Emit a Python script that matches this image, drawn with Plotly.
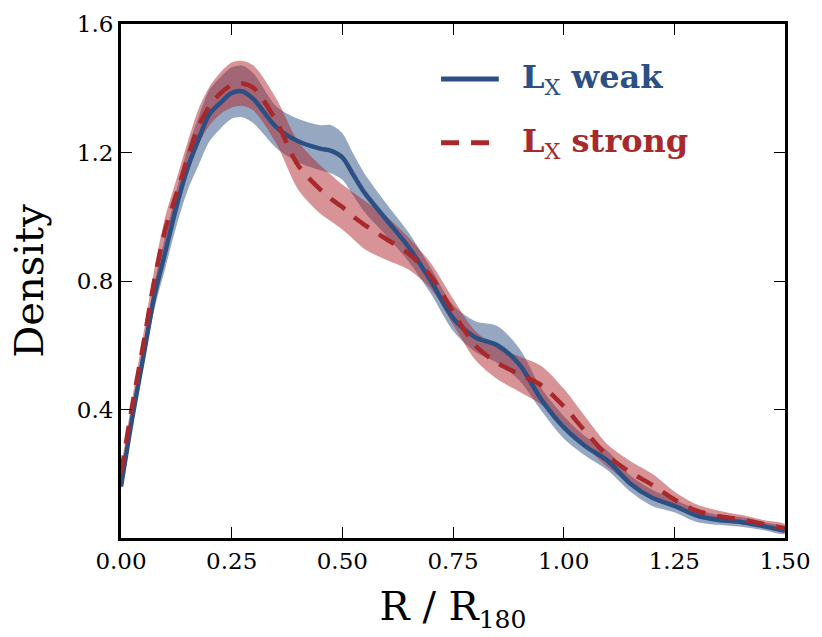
import plotly.graph_objects as go

# ---- data ----
r_grid = [0, 0.025, 0.05, 0.075, 0.1, 0.125, 0.15, 0.175, 0.2, 0.225, 0.25, 0.275, 0.3,
          0.35, 0.4, 0.45, 0.475, 0.5, 0.525, 0.55, 0.6, 0.65, 0.7, 0.75, 0.8, 0.85, 0.9, 0.95, 1.0,
          1.05, 1.1, 1.15, 1.2, 1.25, 1.3, 1.35, 1.4, 1.45, 1.5]

weak_mid = [0.16, 0.37, 0.56, 0.75, 0.89, 1.03, 1.15, 1.24, 1.32, 1.355, 1.385, 1.39, 1.365,
            1.28, 1.235, 1.212, 1.205, 1.185, 1.13, 1.075, 0.99, 0.905, 0.80, 0.685, 0.625, 0.60, 0.54, 0.43, 0.345,
            0.285, 0.24, 0.17, 0.125, 0.10, 0.07, 0.056, 0.05, 0.037, 0.023]
weak_hi = [0.17, 0.39, 0.59, 0.79, 0.94, 1.08, 1.21, 1.31, 1.395, 1.435, 1.465, 1.47, 1.445,
           1.345, 1.305, 1.285, 1.285, 1.26, 1.195, 1.135, 1.04, 0.95, 0.84, 0.725, 0.675, 0.66, 0.59, 0.465, 0.38,
           0.315, 0.27, 0.195, 0.15, 0.12, 0.09, 0.071, 0.065, 0.049, 0.033]
weak_lo = [0.15, 0.35, 0.53, 0.71, 0.84, 0.97, 1.08, 1.16, 1.235, 1.275, 1.305, 1.31, 1.29,
           1.215, 1.17, 1.145, 1.135, 1.115, 1.065, 1.015, 0.94, 0.86, 0.76, 0.645, 0.58, 0.545, 0.49, 0.395, 0.31,
           0.255, 0.21, 0.145, 0.10, 0.08, 0.05, 0.041, 0.035, 0.025, 0.013]

strong_mid = [0.20, 0.41, 0.60, 0.80, 0.96, 1.07, 1.18, 1.28, 1.345, 1.385, 1.41, 1.415, 1.40,
              1.30, 1.16, 1.085, 1.055, 1.03, 1.0, 0.975, 0.93, 0.885, 0.815, 0.705, 0.60, 0.545, 0.51, 0.475, 0.41,
              0.33, 0.255, 0.205, 0.165, 0.12, 0.085, 0.068, 0.058, 0.044, 0.03]
strong_hi = [0.22, 0.43, 0.63, 0.835, 1.0, 1.115, 1.23, 1.335, 1.405, 1.45, 1.48, 1.485, 1.47,
             1.37, 1.235, 1.16, 1.13, 1.10, 1.075, 1.05, 1.0, 0.935, 0.855, 0.745, 0.645, 0.595, 0.565, 0.535, 0.465,
             0.375, 0.29, 0.24, 0.20, 0.145, 0.105, 0.085, 0.072, 0.056, 0.042]
strong_lo = [0.18, 0.39, 0.57, 0.765, 0.92, 1.025, 1.13, 1.225, 1.285, 1.32, 1.34, 1.345, 1.33,
             1.23, 1.085, 1.01, 0.985, 0.96, 0.93, 0.90, 0.865, 0.835, 0.775, 0.665, 0.555, 0.495, 0.455, 0.415, 0.355,
             0.285, 0.22, 0.17, 0.13, 0.095, 0.065, 0.051, 0.044, 0.032, 0.018]

x_ticks = [0, 0.25, 0.5, 0.75, 1.0, 1.25, 1.5]
x_ticklabels = ["0.00", "0.25", "0.50", "0.75", "1.00", "1.25", "1.50"]
y_ticks = [0.4, 0.8, 1.2, 1.6]
y_ticklabels = ["0.4", "0.8", "1.2", "1.6"]

BLUE = "#2c5084"
RED = "#a8292b"
BLUE_FILL = "rgba(44,80,132,0.5)"
RED_FILL = "rgba(176,40,44,0.5)"
FONT = "DejaVu Serif"
SMOOTH = 0.85

fig = go.Figure()

def band(lo, hi, color):
    return go.Scatter(x=r_grid + r_grid[::-1], y=hi + lo[::-1], fill="toself",
                      fillcolor=color, line=dict(width=0, shape="spline", smoothing=SMOOTH),
                      mode="lines", hoverinfo="skip", showlegend=False)

fig.add_trace(band(weak_lo, weak_hi, BLUE_FILL))
fig.add_trace(band(strong_lo, strong_hi, RED_FILL))
fig.add_trace(go.Scatter(x=r_grid, y=weak_mid, mode="lines",
                         line=dict(color=BLUE, width=4.5, shape="spline", smoothing=SMOOTH),
                         showlegend=False))
fig.add_trace(go.Scatter(x=r_grid, y=strong_mid, mode="lines",
                         line=dict(color=RED, width=4.5, dash="18px,12px", shape="spline", smoothing=SMOOTH),
                         showlegend=False))

# manual legend
leg = [(0.893, BLUE, "solid", "<b>L</b><sub>X</sub><b> weak</b>"),
       (0.769, RED, "18px,12px", "<b>L</b><sub>X</sub><b> strong</b>")]
for yp, col, dash, txt in leg:
    fig.add_shape(type="line", xref="paper", yref="paper", x0=0.482, x1=0.569, y0=yp, y1=yp,
                  line=dict(color=col, width=5, dash=dash))
    fig.add_annotation(xref="paper", yref="paper", x=0.601, y=yp, xanchor="left", yanchor="middle",
                       text=txt, showarrow=False,
                       font=dict(family=FONT, size=32, color=col))

axis_common = dict(showline=True, linewidth=3, linecolor="black", mirror="ticks",
                   ticks="inside", ticklen=11, tickwidth=1.3, tickcolor="black",
                   showgrid=False, zeroline=False,
                   tickfont=dict(family=FONT, size=23, color="black"))

fig.update_xaxes(range=[0, 1.5], tickvals=x_ticks, ticktext=x_ticklabels,
                 title=dict(text="R / R<sub><span style='font-size:25px'>180</span></sub>",
                            font=dict(family=FONT, size=40, color="black"),
                            standoff=20),
                 **axis_common)
fig.update_yaxes(range=[0, 1.6], tickvals=y_ticks, ticktext=y_ticklabels,
                 title=dict(text="Density", font=dict(family=FONT, size=40, color="black"),
                            standoff=21),
                 **axis_common)

fig.update_layout(width=822, height=637, margin=dict(l=121, r=37, t=24, b=99, autoexpand=False),
                  plot_bgcolor="white", paper_bgcolor="white", showlegend=False)

fig.write_html("out.html")
